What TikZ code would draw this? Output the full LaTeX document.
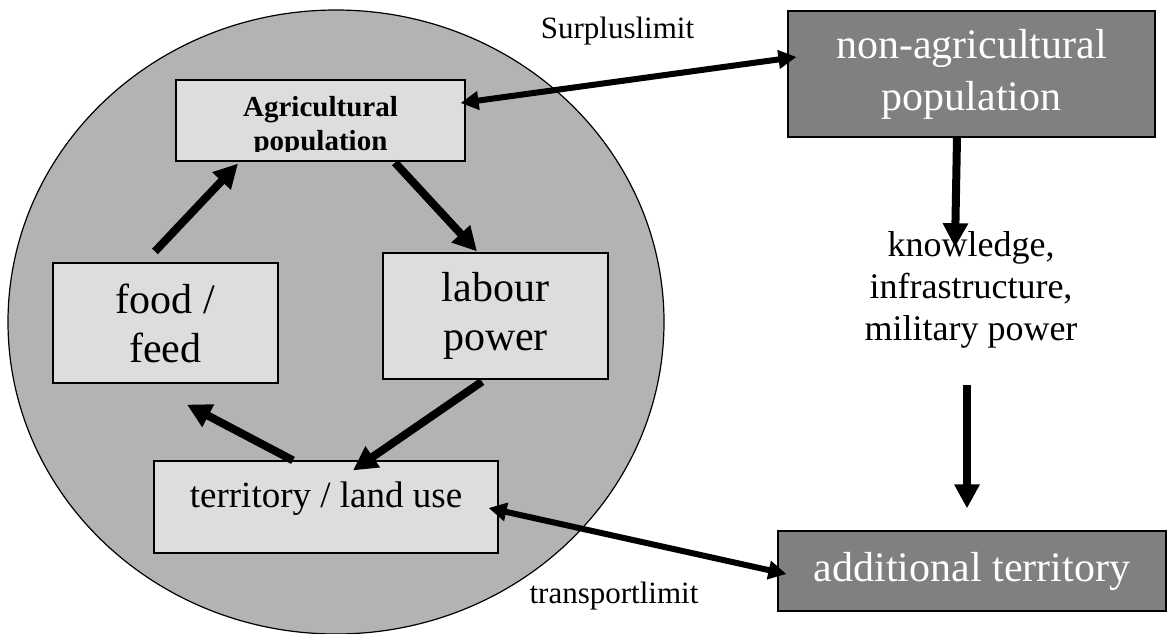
\documentclass[tikz,border=0pt]{standalone}
\usepackage{fontspec}
\setmainfont{Liberation Serif}
\usepackage{tikz}
\usetikzlibrary{arrows.meta}

\definecolor{circlegray}{HTML}{B3B3B3}
\definecolor{boxlight}{HTML}{DDDDDD}
\definecolor{boxdark}{HTML}{808080}

\tikzset{
  lightbox/.style={draw, line width=0.6pt, fill=boxlight, inner sep=0pt, align=center,
    font=\fontsize{21}{24.5}\selectfont},
  darkbox/.style={draw, line width=0.6pt, fill=boxdark, text=white, inner sep=0pt, align=center,
    font=\fontsize{21}{26}\selectfont},
  flow/.style={line width=4pt, -{Triangle[length=12pt,width=12pt]}},
  limit/.style={line width=3pt, {Triangle[length=9pt,width=9pt]}-{Triangle[length=9pt,width=9pt]}},
  limitlabel/.style={inner sep=0pt, anchor=base, font=\fontsize{15.5}{18}\selectfont}
}

\begin{document}
\begin{tikzpicture}[x=0.5pt, y=-0.5pt]
  \useasboundingbox (0,0) rectangle (1167,633);

  % Region
  \draw[line width=0.6pt, fill=circlegray] (336,322) ellipse [x radius=164pt, y radius=156pt];

  % Nodes

  \node[lightbox, minimum width=144.5pt, minimum height=40.5pt] (agri) at (320.5,120.5) {}; %
  \begin{scope}
    \clip (agri.north west) rectangle ([yshift=5pt]agri.south east);
    \node[inner sep=0pt, align=center, font=\fontsize{14.5}{17}\selectfont\bfseries]
      (agrilabel) at (320.5,127) {Agricultural\\population}; %
  \end{scope}
  \node[lightbox, minimum width=112.5pt, minimum height=63pt] (labour) at (495.5,316) {labour\\power}; %
  \node[lightbox, minimum width=112.5pt, minimum height=60pt] (food) at (165.5,323) {food /\\feed}; %
  \node[lightbox, minimum width=172pt, minimum height=46pt, text height=9pt, text depth=9pt,
    font=\fontsize{18.5}{22}\selectfont] (terr) at (326,507) {territory / land use}; %
  \node[darkbox, minimum width=183.5pt, minimum height=63pt] (nonagri) at (971.5,74) {non-agricultural\\population}; %
  \node[darkbox, minimum width=194pt, minimum height=40pt] (addterr) at (972,571) {additional territory}; %
  \node[inner sep=0pt, align=center, font=\fontsize{18}{21}\selectfont] (know) at (971,290)
    {knowledge,\\infrastructure,\\military power}; %

  \node[limitlabel] (surplus) at (617.5,38) {Surpluslimit}; %
  \node[limitlabel] (transport) at (614,603) {transportlimit}; %

  % Edges
  \draw[flow] ([shift={(-10.5,-11)}]food.north) -- ([shift={(-82.5,2)}]agri.south);
  \draw[flow] ([shift={(74.5,1)}]agri.south) -- ([shift={(-18.5,-1)}]labour.north);
  \draw[flow] ([shift={(-13.5,2)}]labour.south) -- ([shift={(27,10)}]terr.north);
  \draw[flow] ([shift={(-33,0)}]terr.north) -- ([shift={(21.5,21)}]food.south);
  \draw[flow] ([shift={(-14.5,0)}]nonagri.south) -- ([shift={(-16,16)}]know.north);
  \draw[flow] ([shift={(-4,36)}]know.south) -- ([shift={(-5,-22)}]addterr.north);

  \draw[limit] ([shift={(-5,-17.5)}]agri.east) -- ([shift={(9,-17)}]nonagri.west);
  \draw[limit] ([shift={(-10,1)}]terr.east) -- ([shift={(9,3)}]addterr.west);
\end{tikzpicture}
\end{document}
